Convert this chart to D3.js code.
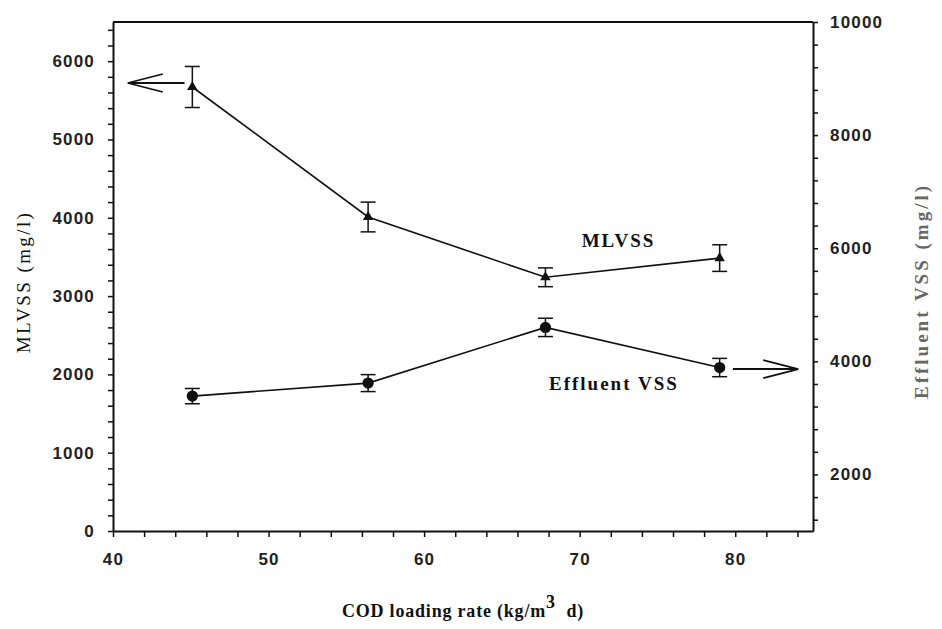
<!DOCTYPE html>
<html lang="en">

<head>
    <meta charset="UTF-8">
    <title>MLVSS and Effluent VSS vs COD loading rate</title>
    <style>
        body,
        html {
            margin: 0;
            padding: 0;
            background: #fff;
        }

        svg {
            display: block;
        }

        .axis path,
        .axis line {
            stroke: #111;
        }

        .axis path {
            stroke-width: 2;
        }

        .axis line {
            stroke-width: 1.5;
        }

        .axis text {
            font-family: "Liberation Sans", Arial, sans-serif;
            font-weight: bold;
            font-size: 17px;
            letter-spacing: 1.2px;
            fill: #222;
        }

        .serif {
            font-family: "Liberation Serif", "Times New Roman", serif;
            fill: #111;
        }
    </style>
</head>

<body>
    <svg id="svg" width="942" height="629"></svg>

    <script src="https://d3js.org/d3.v7.min.js"></script>
    <script>
        // COD loading rate (kg/m3 d)
        const codRate = [45.1, 56.4, 67.8, 79.0];
        // MLVSS (mg/l), left axis
        const mlvss = [5670, 4010, 3240, 3485];
        const mlvssErr = [262, 190, 120, 170];
        // Effluent VSS (mg/l), right axis
        const effluentVss = [3385, 3615, 4600, 3890];
        const effluentErr = [135, 150, 162, 162];

        // ticks
        const xTicks = d3.range(40, 85, 2);
        const xLabels = [40, 50, 60, 70, 80];
        const leftTicks = d3.range(0, 6401, 200);
        const leftLabels = [0, 1000, 2000, 3000, 4000, 5000, 6000];
        const rightTicks = d3.range(1200, 10001, 400);
        const rightLabels = [2000, 4000, 6000, 8000, 10000];

        // annotations, in data units
        const seriesLabels = [
            { text: 'MLVSS', x: 72.5, y: 3627, axis: 'left' },
            { text: 'Effluent VSS', x: 72.2, y: 3493, axis: 'right' }
        ];
        const arrows = [
            { from: 44.6, to: 40.95, y: 5721, axis: 'left' },
            { from: 79.85, to: 84.05, y: 3864, axis: 'right' }
        ];

        const margin = { top: 22, right: 129, bottom: 98, left: 113 }
        const width = 942 - (margin.left + margin.right)
        const height = 629 - (margin.top + margin.bottom)

        const svg = d3.select('#svg');

        const x = d3.scaleLinear()
            .domain([40, 85])
            .range([margin.left, margin.left + width]);

        const yLeft = d3.scaleLinear()
            .domain([0, 6500])
            .range([margin.top + height, margin.top]);

        const yRight = d3.scaleLinear()
            .domain([1000, 10000])
            .range([margin.top + height, margin.top]);

        const scaleFor = axis => axis === 'left' ? yLeft : yRight;

        // frame top line
        svg.append('line')
            .attr('x1', margin.left)
            .attr('x2', margin.left + width)
            .attr('y1', margin.top)
            .attr('y2', margin.top)
            .attr('stroke', '#111')
            .attr('stroke-width', 2);

        // axes
        svg.append('g')
            .attr('class', 'axis')
            .attr('transform', `translate(0, ${margin.top + height})`)
            .call(d3.axisBottom(x)
                .tickValues(xTicks)
                .tickFormat(d => xLabels.includes(d) ? d : '')
                .tickSize(6)
                .tickSizeOuter(0)
                .tickPadding(16));

        svg.append('g')
            .attr('class', 'axis')
            .attr('transform', `translate(${margin.left}, 0)`)
            .call(d3.axisLeft(yLeft)
                .tickValues(leftTicks)
                .tickFormat(d => leftLabels.includes(d) ? d : '')
                .tickSize(5)
                .tickSizeOuter(0)
                .tickPadding(13));

        svg.append('g')
            .attr('class', 'axis')
            .attr('transform', `translate(${margin.left + width}, 0)`)
            .call(d3.axisRight(yRight)
                .tickValues(rightTicks)
                .tickFormat(d => rightLabels.includes(d) ? d : '')
                .tickSize(5)
                .tickSizeOuter(0)
                .tickPadding(12));

        // series data
        const mlData = codRate.map((c, i) => ({ x: c, y: mlvss[i], e: mlvssErr[i] }));
        const effData = codRate.map((c, i) => ({ x: c, y: effluentVss[i], e: effluentErr[i] }));

        function drawSeries(data, yscale, symbolType, symbolSize) {
            const g = svg.append('g');

            const line = d3.line()
                .x(d => x(d.x))
                .y(d => yscale(d.y));

            g.append('path')
                .datum(data)
                .attr('d', line)
                .attr('fill', 'none')
                .attr('stroke', '#111')
                .attr('stroke-width', 1.6);

            // error bars
            const bars = g.selectAll('.err')
                .data(data)
                .join('g')
                .attr('class', 'err')
                .attr('stroke', '#111')
                .attr('stroke-width', 1.5);

            bars.append('line')
                .attr('x1', d => x(d.x))
                .attr('x2', d => x(d.x))
                .attr('y1', d => yscale(d.y - d.e))
                .attr('y2', d => yscale(d.y + d.e));

            bars.append('line')
                .attr('x1', d => x(d.x) - 7.5)
                .attr('x2', d => x(d.x) + 7.5)
                .attr('y1', d => yscale(d.y + d.e))
                .attr('y2', d => yscale(d.y + d.e));

            bars.append('line')
                .attr('x1', d => x(d.x) - 7.5)
                .attr('x2', d => x(d.x) + 7.5)
                .attr('y1', d => yscale(d.y - d.e))
                .attr('y2', d => yscale(d.y - d.e));

            g.selectAll('.marker')
                .data(data)
                .join('path')
                .attr('class', 'marker')
                .attr('transform', d => `translate(${x(d.x)}, ${yscale(d.y)})`)
                .attr('d', d3.symbol(symbolType, symbolSize))
                .attr('fill', '#111');
        }

        drawSeries(mlData, yLeft, d3.symbolTriangle, 48);
        drawSeries(effData, yRight, d3.symbolCircle, 100);

        // arrows pointing to the axis of each series
        svg.append('g')
            .selectAll('path')
            .data(arrows)
            .join('path')
            .attr('d', d => {
                const ys = scaleFor(d.axis);
                const x0 = x(d.from), x1 = x(d.to), yy = ys(d.y);
                const dir = x1 > x0 ? -1 : 1;
                return `M${x0},${yy}L${x1},${yy}` +
                    `M${x1 + dir * 35},${yy - 9}L${x1},${yy}L${x1 + dir * 35},${yy + 9}`;
            })
            .attr('fill', 'none')
            .attr('stroke', '#111')
            .attr('stroke-width', 1.8);

        // series labels
        svg.append('g')
            .selectAll('text')
            .data(seriesLabels)
            .join('text')
            .attr('class', 'serif')
            .attr('x', d => x(d.x))
            .attr('y', d => scaleFor(d.axis)(d.y))
            .attr('text-anchor', 'middle')
            .style('font-size', '19px')
            .style('font-weight', 'bold')
            .style('letter-spacing', '2px')
            .text(d => d.text);

        // x-axis title
        const xTitle = svg.append('text')
            .attr('class', 'serif')
            .attr('x', 463)
            .attr('y', 617)
            .attr('text-anchor', 'middle')
            .style('font-size', '18px')
            .style('font-weight', 'bold')
            .style('letter-spacing', '0.8px');
        xTitle.append('tspan').text('COD loading rate (kg/m');
        xTitle.append('tspan').attr('dy', -9).text('3');
        xTitle.append('tspan').attr('dy', 9).text('\u00a0 d)');

        // left y-axis title
        svg.append('text')
            .attr('class', 'serif')
            .attr('transform', 'rotate(-90)')
            .attr('x', -282)
            .attr('y', 30)
            .attr('text-anchor', 'middle')
            .style('font-size', '19px')
            .style('letter-spacing', '2.4px')
            .text('MLVSS (mg/l)');

        // right y-axis title
        svg.append('text')
            .attr('class', 'serif')
            .attr('transform', 'rotate(-90)')
            .attr('x', -291)
            .attr('y', 928)
            .attr('text-anchor', 'middle')
            .style('font-size', '19px')
            .style('font-weight', 'bold')
            .style('letter-spacing', '3px')
            .style('fill', '#666')
            .text('Effluent VSS (mg/l)');
    </script>
</body>

</html>
